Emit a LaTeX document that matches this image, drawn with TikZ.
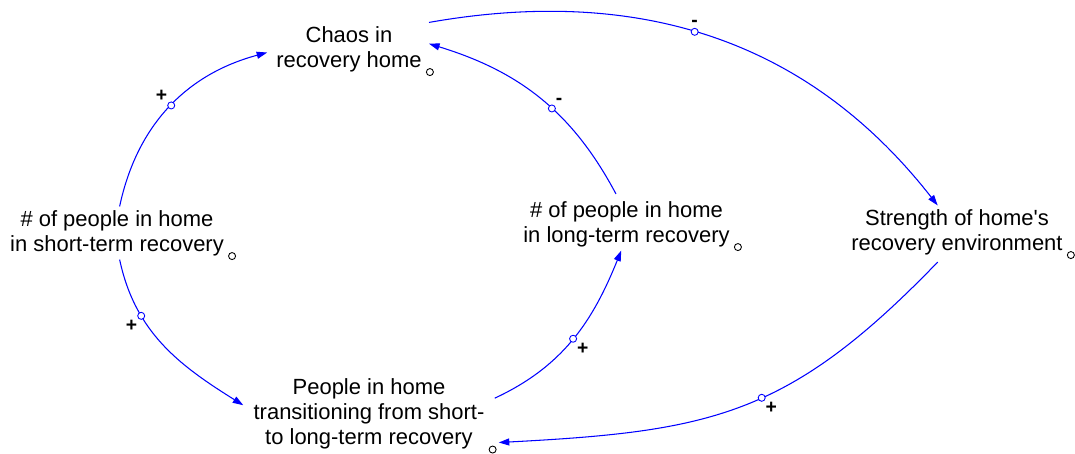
\documentclass[tikz,border=0pt]{standalone}
\usepackage{fontspec}
\setmainfont{Liberation Sans}
\usetikzlibrary{positioning, arrows.meta}

\tikzset{
  var/.style={align=center, inner sep=2pt, font=\fontsize{12.5pt}{14.2pt}\selectfont},
  link/.style={blue, line width=0.6pt, -{Triangle[length=6pt,width=4pt]}},
  pol/.style={circle, draw=blue, fill=white, line width=0.5pt, inner sep=0pt, minimum size=4pt},
  ring/.style={circle, draw=black, fill=white, line width=0.5pt, inner sep=0pt, minimum size=4pt},
  sign/.style={inner sep=0.5pt, font=\bfseries\fontsize{11pt}{12pt}\selectfont}
}

\begin{document}
\begin{tikzpicture}
    \useasboundingbox (0,0) rectangle (21.5,-9.06);

    % Variables
    \node[var] (chaos) at (6.98,-0.98) {Chaos in\\recovery home};
    \node[var] (st) at (2.34,-4.66) {\# of people in home\\in short-term recovery};
    \node[var] (lt) at (12.53,-4.48) {\# of people in home\\in long-term recovery};
    \node[var] (str) at (19.14,-4.64) {Strength of home\textquotesingle s\\recovery environment};
    \node[var] (tr) at (7.38,-8.28) {People in home\\transitioning from short-\\to long-term recovery};

    % Small marks beside each variable
    \foreach \n in {chaos, st, lt, str, tr} {
      \node[ring] (\n-m) at ([shift={(2.5pt,2pt)}]\n.south east) {};
    }

    % Causal links
    \draw[link] ([xshift=1.5pt]st.north) to[out=78,in=195]
      node[pol, pos=.51] (p1) {} ([shift={(-3pt,-2pt)}]chaos.west);
    \draw[link] ([xshift=1.5pt]st.south) to[out=-78,in=148]
      node[pol, pos=.3] (p2) {} ([shift={(-3.7pt,5pt)}]tr.west);
    \draw[link] ([shift={(3.7pt,9pt)}]tr.east) to[out=25,in=248]
      node[pol, pos=.5] (p3) {} ([xshift=-3pt]lt.south);
    \draw[link] ([shift={(-6pt,2pt)}]lt.north) to[out=118,in=343]
      node[pol, pos=.43] (p4) {} ([shift={(2pt,3pt)}]chaos.east);
    \draw[link] ([xshift=2pt]chaos.north east) to[out=10,in=128]
      node[pol, pos=.465] (p5) {} ([xshift=-11pt]str.north);
    \draw[link] ([shift={(-11pt,-2pt)}]str.south) to[out=226,in=3,looseness=1.15]
      node[pol, pos=.45] (p6) {} ([shift={(6pt,6pt)}]tr.south east);

    % Polarity of each link
    \foreach \i/\w/\s in {1/above left/+, 2/below left/+, 3/below right/+, 4/above right/-, 5/above/-, 6/below right/+} {
      \node[sign, \w=0pt of p\i] (s\i) {\s};
    }
\end{tikzpicture}
\end{document}
